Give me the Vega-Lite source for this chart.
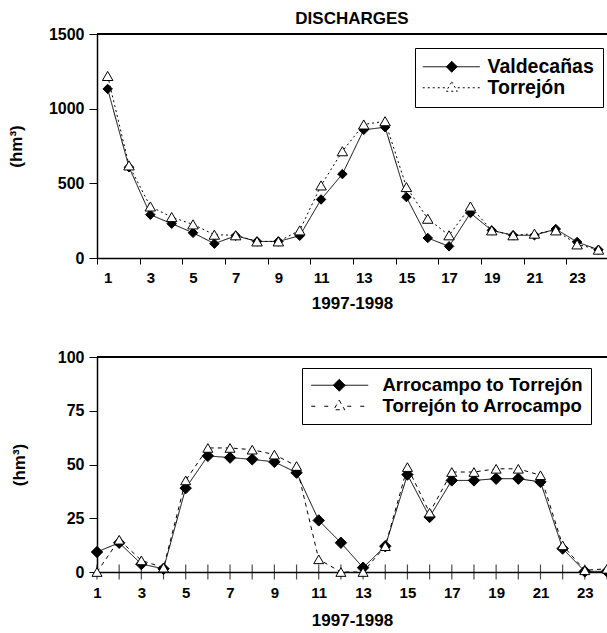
{
  "$schema": "https://vega.github.io/schema/vega-lite/v6.json",
  "padding": {"left": 7, "top": 10, "right": 0, "bottom": 0},
  "background": "white",
  "spacing": 38,
  "resolve": {
    "scale": {"strokeDash": "independent"},
    "legend": {"strokeDash": "independent"}
  },
  "config": {
    "font": "Liberation Sans",
    "view": {"stroke": null},
    "axis": {
      "grid": false,
      "domainColor": "black",
      "domainWidth": 1.5,
      "tickColor": "black",
      "tickWidth": 1,
      "labelColor": "black",
      "labelFont": "Liberation Sans",
      "labelFontWeight": "bold",
      "labelFontSize": 15,
      "labelOverlap": false,
      "labelBound": false,
      "labelFlush": false,
      "titleColor": "black",
      "titleFont": "Liberation Sans",
      "titleFontWeight": "bold",
      "titleFontSize": 17
    },
    "title": {"font": "Liberation Sans", "fontWeight": "bold", "fontSize": 17, "color": "black"}
  },
  "datasets": {
    "top": [
      {"x": 1, "s": "Valdecañas", "v": 1132}, {"x": 2, "s": "Valdecañas", "v": 608}, {"x": 3, "s": "Valdecañas", "v": 290},
      {"x": 4, "s": "Valdecañas", "v": 230}, {"x": 5, "s": "Valdecañas", "v": 169}, {"x": 6, "s": "Valdecañas", "v": 96},
      {"x": 7, "s": "Valdecañas", "v": 149}, {"x": 8, "s": "Valdecañas", "v": 111}, {"x": 9, "s": "Valdecañas", "v": 111},
      {"x": 10, "s": "Valdecañas", "v": 149}, {"x": 11, "s": "Valdecañas", "v": 392}, {"x": 12, "s": "Valdecañas", "v": 562},
      {"x": 13, "s": "Valdecañas", "v": 858}, {"x": 14, "s": "Valdecañas", "v": 876}, {"x": 15, "s": "Valdecañas", "v": 408},
      {"x": 16, "s": "Valdecañas", "v": 134}, {"x": 17, "s": "Valdecañas", "v": 78}, {"x": 18, "s": "Valdecañas", "v": 301},
      {"x": 19, "s": "Valdecañas", "v": 185}, {"x": 20, "s": "Valdecañas", "v": 152}, {"x": 21, "s": "Valdecañas", "v": 152},
      {"x": 22, "s": "Valdecañas", "v": 194}, {"x": 23, "s": "Valdecañas", "v": 107}, {"x": 24, "s": "Valdecañas", "v": 55},
      {"x": 1, "s": "Torrejón", "v": 1219}, {"x": 2, "s": "Torrejón", "v": 620}, {"x": 3, "s": "Torrejón", "v": 345},
      {"x": 4, "s": "Torrejón", "v": 274}, {"x": 5, "s": "Torrejón", "v": 225}, {"x": 6, "s": "Torrejón", "v": 156},
      {"x": 7, "s": "Torrejón", "v": 152}, {"x": 8, "s": "Torrejón", "v": 111}, {"x": 9, "s": "Torrejón", "v": 111},
      {"x": 10, "s": "Torrejón", "v": 185}, {"x": 11, "s": "Torrejón", "v": 486}, {"x": 12, "s": "Torrejón", "v": 715},
      {"x": 13, "s": "Torrejón", "v": 894}, {"x": 14, "s": "Torrejón", "v": 916}, {"x": 15, "s": "Torrejón", "v": 475},
      {"x": 16, "s": "Torrejón", "v": 263}, {"x": 17, "s": "Torrejón", "v": 152}, {"x": 18, "s": "Torrejón", "v": 345},
      {"x": 19, "s": "Torrejón", "v": 185}, {"x": 20, "s": "Torrejón", "v": 152}, {"x": 21, "s": "Torrejón", "v": 163},
      {"x": 22, "s": "Torrejón", "v": 185}, {"x": 23, "s": "Torrejón", "v": 91}, {"x": 24, "s": "Torrejón", "v": 56}
    ],
    "bottom": [
      {"x": 1, "s": "Arrocampo to Torrejón", "v": 9.3}, {"x": 2, "s": "Arrocampo to Torrejón", "v": 13.6}, {"x": 3, "s": "Arrocampo to Torrejón", "v": 3.7},
      {"x": 4, "s": "Arrocampo to Torrejón", "v": 1.5}, {"x": 5, "s": "Arrocampo to Torrejón", "v": 39}, {"x": 6, "s": "Arrocampo to Torrejón", "v": 54},
      {"x": 7, "s": "Arrocampo to Torrejón", "v": 53.2}, {"x": 8, "s": "Arrocampo to Torrejón", "v": 52.4}, {"x": 9, "s": "Arrocampo to Torrejón", "v": 51.2},
      {"x": 10, "s": "Arrocampo to Torrejón", "v": 46.2}, {"x": 11, "s": "Arrocampo to Torrejón", "v": 24}, {"x": 12, "s": "Arrocampo to Torrejón", "v": 13.6},
      {"x": 13, "s": "Arrocampo to Torrejón", "v": 2}, {"x": 14, "s": "Arrocampo to Torrejón", "v": 12}, {"x": 15, "s": "Arrocampo to Torrejón", "v": 45.3},
      {"x": 16, "s": "Arrocampo to Torrejón", "v": 25.6}, {"x": 17, "s": "Arrocampo to Torrejón", "v": 42.6}, {"x": 18, "s": "Arrocampo to Torrejón", "v": 42.6},
      {"x": 19, "s": "Arrocampo to Torrejón", "v": 43.4}, {"x": 20, "s": "Arrocampo to Torrejón", "v": 43.4}, {"x": 21, "s": "Arrocampo to Torrejón", "v": 41.9},
      {"x": 22, "s": "Arrocampo to Torrejón", "v": 10.9}, {"x": 23, "s": "Arrocampo to Torrejón", "v": 0.3}, {"x": 24, "s": "Arrocampo to Torrejón", "v": 0.3},
      {"x": 1, "s": "Torrejón to Arrocampo", "v": 0}, {"x": 2, "s": "Torrejón to Arrocampo", "v": 15}, {"x": 3, "s": "Torrejón to Arrocampo", "v": 5.4},
      {"x": 4, "s": "Torrejón to Arrocampo", "v": 2}, {"x": 5, "s": "Torrejón to Arrocampo", "v": 42.6}, {"x": 6, "s": "Torrejón to Arrocampo", "v": 57.7},
      {"x": 7, "s": "Torrejón to Arrocampo", "v": 57.7}, {"x": 8, "s": "Torrejón to Arrocampo", "v": 56.9}, {"x": 9, "s": "Torrejón to Arrocampo", "v": 54.6},
      {"x": 10, "s": "Torrejón to Arrocampo", "v": 49.3}, {"x": 11, "s": "Torrejón to Arrocampo", "v": 5.9}, {"x": 12, "s": "Torrejón to Arrocampo", "v": 0},
      {"x": 13, "s": "Torrejón to Arrocampo", "v": 0}, {"x": 14, "s": "Torrejón to Arrocampo", "v": 12}, {"x": 15, "s": "Torrejón to Arrocampo", "v": 48.8},
      {"x": 16, "s": "Torrejón to Arrocampo", "v": 27.6}, {"x": 17, "s": "Torrejón to Arrocampo", "v": 46.5}, {"x": 18, "s": "Torrejón to Arrocampo", "v": 46.5},
      {"x": 19, "s": "Torrejón to Arrocampo", "v": 48}, {"x": 20, "s": "Torrejón to Arrocampo", "v": 48}, {"x": 21, "s": "Torrejón to Arrocampo", "v": 45},
      {"x": 22, "s": "Torrejón to Arrocampo", "v": 12.4}, {"x": 23, "s": "Torrejón to Arrocampo", "v": 0.8}, {"x": 24, "s": "Torrejón to Arrocampo", "v": 1.5}
    ]
  },
  "vconcat": [
    {
      "width": 510,
      "height": 224,
      "title": {"text": "DISCHARGES", "offset": -2},
      "data": {"name": "top"},
      "layer": [
        {
          "mark": {"type": "rule", "color": "black", "strokeWidth": 1.5},
          "encoding": {"y": {"datum": 1500, "type": "quantitative"}}
        },
        {
          "mark": {"type": "line", "color": "black", "strokeWidth": 1},
          "encoding": {
            "x": {
              "field": "x", "type": "quantitative",
              "scale": {"domain": [0.5, 24.4], "nice": false, "zero": false},
              "axis": {
                "title": "1997-1998",
                "titlePadding": 10,
                "values": [0.5, 1.5, 2.5, 3.5, 4.5, 5.5, 6.5, 7.5, 8.5, 9.5, 10.5, 11.5, 12.5, 13.5, 14.5, 15.5, 16.5, 17.5, 18.5, 19.5, 20.5, 21.5, 22.5, 23.5],
                "labelExpr": "(datum.value + 0.5) % 2 === 1 ? '' + (datum.value + 0.5) : ''",
                "labelOffset": 10.67,
                "tickSize": 6,
                "labelPadding": 6
              }
            },
            "y": {
              "field": "v", "type": "quantitative",
              "scale": {"domain": [0, 1500], "nice": false},
              "axis": {"title": "(hm³)", "values": [0, 500, 1000, 1500], "format": "d", "labelFontSize": 16, "tickSize": 8, "labelPadding": 5, "titlePadding": 23}
            },
            "strokeDash": {
              "field": "s", "type": "nominal",
              "scale": {"domain": ["Valdecañas", "Torrejón"], "range": [[1, 0], [2, 3]]},
              "legend": {
                "title": null,
                "orient": "none",
                "legendX": 318,
                "legendY": 14,
                "strokeColor": "black",
                "padding": 9,
                "labelFont": "Liberation Sans",
                "labelFontSize": 19.5,
                "labelFontWeight": "bold",
                "labelColor": "black",
                "labelLimit": 300,
                "symbolSize": 100,
                "symbolStrokeWidth": 1,
                "symbolStrokeColor": "black",
                "labelOffset": 44,
                "rowPadding": 0,
                "encode": {
                  "symbols": {
                    "update": {
                      "shape": {"signal": "datum.value === 'Valdecañas' ? 'M-2.2,0H9.2M3.6,-1.1L4.7,0L3.6,1.1L2.5,0Z' : 'M-2.2,0H-1.6M-1.2,0H-0.6M-0.2,0H0.4M0.8,0H1.4M1.8,0H2.4M4.8,0H5.4M5.8,0H6.4M6.8,0H7.4M7.8,0H8.4M8.8,0H9.2M3.6,-1.2L4.7,0.7L2.5,0.7Z'"},
                      "fill": {"signal": "datum.value === 'Valdecañas' ? 'black' : 'white'"},
                      "stroke": {"value": "black"},
                      "strokeDash": {"value": [1, 0]},
                      "strokeWidth": {"value": 1}
                    }
                  }
                }
              }
            }
          }
        },
        {
          "transform": [{"filter": "datum.s === 'Valdecañas'"}],
          "mark": {"type": "point", "shape": "diamond", "filled": true, "fill": "black", "stroke": "black", "strokeWidth": 1, "opacity": 1, "size": 90},
          "encoding": {
            "x": {"field": "x", "type": "quantitative"},
            "y": {"field": "v", "type": "quantitative"}
          }
        },
        {
          "transform": [{"filter": "datum.s === 'Torrejón'"}],
          "mark": {"type": "point", "shape": "triangle-up", "filled": true, "fill": "white", "stroke": "black", "strokeWidth": 1, "opacity": 1, "size": 110},
          "encoding": {
            "x": {"field": "x", "type": "quantitative"},
            "y": {"field": "v", "type": "quantitative"}
          }
        }
      ]
    },
    {
      "width": 510,
      "height": 215,
      "data": {"name": "bottom"},
      "layer": [
        {
          "mark": {"type": "rule", "color": "black", "strokeWidth": 1.5},
          "encoding": {"y": {"datum": 100, "type": "quantitative"}}
        },
        {
          "mark": {"type": "line", "color": "black", "strokeWidth": 1},
          "encoding": {
            "x": {
              "field": "x", "type": "quantitative",
              "scale": {"domain": [1, 24], "nice": false, "zero": false},
              "axis": {
                "title": "1997-1998",
                "titlePadding": 12,
                "values": [1, 3, 5, 7, 9, 11, 13, 15, 17, 19, 21, 23],
                "ticks": false,
                "labelPadding": 13
              }
            },
            "y": {
              "field": "v", "type": "quantitative",
              "scale": {"domain": [0, 100], "nice": false},
              "axis": {"title": "(hm³)", "values": [0, 25, 50, 75, 100], "labelFontSize": 16, "tickSize": 8, "labelPadding": 5, "titlePadding": 29}
            },
            "strokeDash": {
              "field": "s", "type": "nominal",
              "scale": {"domain": ["Arrocampo to Torrejón", "Torrejón to Arrocampo"], "range": [[1, 0], [4, 4]]},
              "legend": {
                "title": null,
                "orient": "none",
                "legendX": 205,
                "legendY": 11,
                "strokeColor": "black",
                "padding": 8,
                "labelFont": "Liberation Sans",
                "labelFontSize": 18.5,
                "labelFontWeight": "bold",
                "labelColor": "black",
                "labelLimit": 300,
                "symbolSize": 100,
                "symbolStrokeWidth": 1,
                "symbolStrokeColor": "black",
                "labelOffset": 54,
                "rowPadding": 2,
                "encode": {
                  "symbols": {
                    "update": {
                      "shape": {"signal": "datum.value === 'Arrocampo to Torrejón' ? 'M-1.6,0H9.8M4,-1.2L5.2,0L4,1.2L2.8,0Z' : 'M-1.6,0H-0.2M1,0H2.4M5.6,0H7M8.2,0H9.8M4,-1.2L5.1,0.7L2.9,0.7Z'"},
                      "fill": {"signal": "datum.value === 'Arrocampo to Torrejón' ? 'black' : 'white'"},
                      "stroke": {"value": "black"},
                      "strokeDash": {"value": [1, 0]},
                      "strokeWidth": {"value": 1}
                    }
                  }
                }
              }
            }
          }
        },
        {
          "transform": [{"filter": "datum.s === 'Arrocampo to Torrejón'"}],
          "mark": {"type": "tick", "orient": "vertical", "color": "black", "size": 15, "thickness": 1.2},
          "encoding": {
            "x": {"field": "x", "type": "quantitative"},
            "y": {"datum": 0, "type": "quantitative"}
          }
        },
        {
          "transform": [{"filter": "datum.s === 'Arrocampo to Torrejón'"}],
          "mark": {"type": "point", "shape": "diamond", "filled": true, "fill": "black", "stroke": "black", "strokeWidth": 1, "opacity": 1, "size": 130},
          "encoding": {
            "x": {"field": "x", "type": "quantitative"},
            "y": {"field": "v", "type": "quantitative"}
          }
        },
        {
          "transform": [{"filter": "datum.s === 'Torrejón to Arrocampo'"}],
          "mark": {"type": "point", "shape": "triangle-up", "filled": true, "fill": "white", "stroke": "black", "strokeWidth": 1, "opacity": 1, "size": 100},
          "encoding": {
            "x": {"field": "x", "type": "quantitative"},
            "y": {"field": "v", "type": "quantitative"}
          }
        }
      ]
    }
  ]
}
